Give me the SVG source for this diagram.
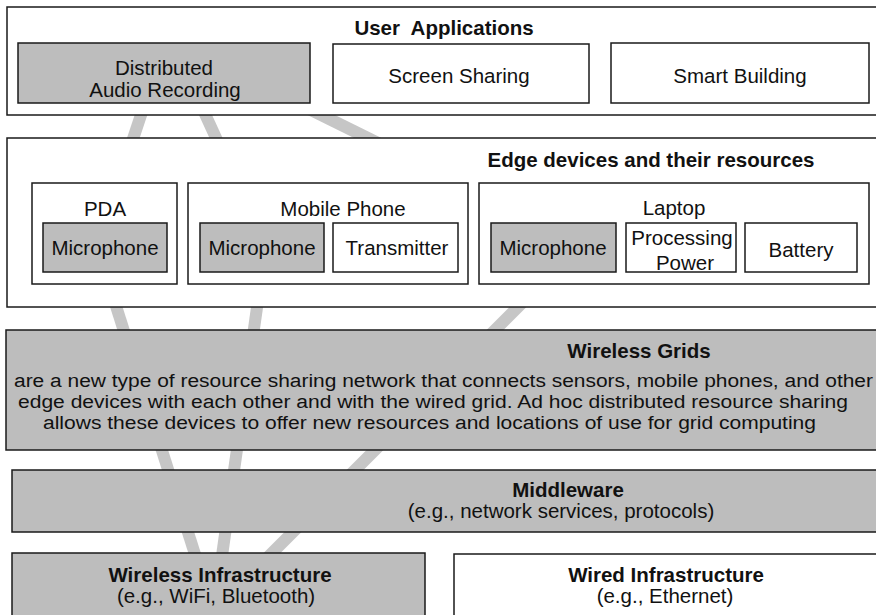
<svg xmlns="http://www.w3.org/2000/svg" width="876" height="615" viewBox="0 0 876 615">
<style>
.box{fill:#ffffff;stroke:#1a1a1a;stroke-width:1.5}
.gbox{fill:#bdbdbd;stroke:#1a1a1a;stroke-width:1.5}
.t{font-family:"Liberation Sans",Arial,sans-serif;font-size:20.5px;fill:#111;text-anchor:middle}
.b{font-weight:bold}
.s{text-anchor:start}
.wg{font-size:18.8px}
.beam{stroke:#c6c6c6;stroke-width:12;fill:none;stroke-linecap:butt}
</style>
<rect x="0" y="0" width="876" height="615" fill="#ffffff"/>
<g id="connectors">
<line class="beam" x1="148.3" y1="93" x2="101.7" y2="233"/>
<line class="beam" x1="195.4" y1="93" x2="259.6" y2="233"/>
<line class="beam" x1="276.7" y1="93" x2="560" y2="233"/>
<line class="beam" x1="102" y1="262" x2="200" y2="570"/>
<line class="beam" x1="263.4" y1="262" x2="220" y2="570"/>
<line class="beam" x1="563" y1="262" x2="255" y2="570"/>
</g>
<g id="user-applications">
<rect class="box" x="7" y="7" width="875" height="108"/>
<text class="t b" x="444" y="35" font-size="18.5" xml:space="preserve">User  Applications</text>
</g>
<g id="distributed-audio-recording">
<rect class="gbox" x="18" y="43" width="292" height="60"/>
<text class="t" x="164" y="75">Distributed</text>
<text class="t" x="165" y="97">Audio Recording</text>
</g>
<g id="screen-sharing">
<rect class="box" x="333" y="44" width="256" height="59"/>
<text class="t" x="459" y="83">Screen Sharing</text>
</g>
<g id="smart-building">
<rect class="box" x="611" y="43" width="258" height="60"/>
<text class="t" x="740" y="83">Smart Building</text>
</g>
<g id="edge-devices">
<rect class="box" x="7" y="138" width="875" height="169"/>
<text class="t b" x="651" y="167">Edge devices and their resources</text>
</g>
<g id="pda">
<rect class="box" x="32" y="183" width="145" height="101"/>
<text class="t" x="105" y="216">PDA</text>
</g>
<g id="pda-microphone">
<rect class="gbox" x="43" y="223" width="124" height="49"/>
<text class="t" x="105" y="255">Microphone</text>
</g>
<g id="mobile-phone">
<rect class="box" x="188" y="183" width="280" height="101"/>
<text class="t" x="343" y="216">Mobile Phone</text>
</g>
<g id="mobile-microphone">
<rect class="gbox" x="200" y="223" width="124" height="49"/>
<text class="t" x="262" y="255">Microphone</text>
</g>
<g id="transmitter">
<rect class="box" x="333" y="223" width="125" height="49"/>
<text class="t" x="397" y="255">Transmitter</text>
</g>
<g id="laptop">
<rect class="box" x="479" y="183" width="390" height="101"/>
<text class="t" x="674" y="215">Laptop</text>
</g>
<g id="laptop-microphone">
<rect class="gbox" x="491" y="223" width="125" height="49"/>
<text class="t" x="553" y="255">Microphone</text>
</g>
<g id="processing-power">
<rect class="box" x="626" y="223" width="110" height="49"/>
<text class="t" x="682" y="245">Processing</text>
<text class="t" x="685" y="270">Power</text>
</g>
<g id="battery">
<rect class="box" x="745" y="223" width="112" height="49"/>
<text class="t" x="801" y="257">Battery</text>
</g>
<g id="wireless-grids">
<rect class="gbox" x="6" y="330" width="876" height="120"/>
<text class="t b" x="639" y="358">Wireless Grids</text>
<text class="t s wg" x="14" y="386.5" textLength="859" lengthAdjust="spacingAndGlyphs">are a new type of resource sharing network that connects sensors, mobile phones, and other</text>
<text class="t s wg" x="18" y="407.5" textLength="830" lengthAdjust="spacingAndGlyphs">edge devices with each other and with the wired grid. Ad hoc distributed resource sharing</text>
<text class="t s wg" x="43" y="428.5" textLength="773" lengthAdjust="spacingAndGlyphs">allows these devices to offer new resources and locations of use for grid computing</text>
</g>
<g id="middleware">
<rect class="gbox" x="12" y="470" width="870" height="62"/>
<text class="t b" x="568" y="497">Middleware</text>
<text class="t" x="561" y="518">(e.g., network services, protocols)</text>
</g>
<g id="wireless-infrastructure">
<rect class="gbox" x="12" y="553" width="413" height="70"/>
<text class="t b" x="220" y="582">Wireless Infrastructure</text>
<text class="t" x="216" y="603">(e.g., WiFi, Bluetooth)</text>
</g>
<g id="wired-infrastructure">
<rect class="box" x="454" y="554" width="428" height="70"/>
<text class="t b" x="666" y="582">Wired Infrastructure</text>
<text class="t" x="665" y="603">(e.g., Ethernet)</text>
</g>
</svg>
